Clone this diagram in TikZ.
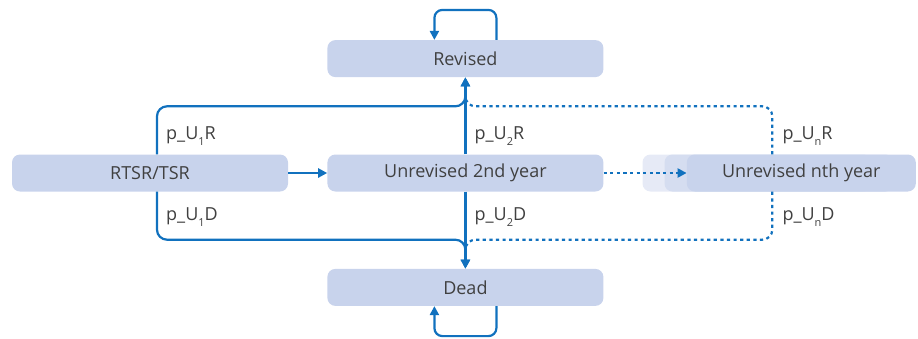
\documentclass[tikz,border=0pt]{standalone}
\usepackage{fontspec}
\setmainfont{Open Sans}
\usetikzlibrary{arrows.meta, positioning, calc}
\definecolor{boxfill}{HTML}{C8D3EC}
\definecolor{shadeA}{HTML}{D5DDF0}
\definecolor{shadeB}{HTML}{E6EAF6}
\definecolor{lineblue}{HTML}{1171BE}
\definecolor{textgray}{HTML}{404040}
\newcommand{\lsub}[1]{\raisebox{-6pt}{\fontsize{11}{11}\selectfont #1}}

\begin{document}
\begin{tikzpicture}[x=1pt, y=-1pt, font=\fontsize{18}{20}\selectfont,
  state/.style={fill=boxfill, rounded corners=8pt, minimum width=276pt,
        minimum height=37pt, inner sep=0pt, text=textgray},
  flow/.style={draw=lineblue, line width=2.2pt, -{Triangle[length=9pt,width=9pt]}},
  flowdot/.style={flow, dash pattern=on 3.2pt off 3.4pt},
  prob/.style={anchor=base west, inner sep=0pt, text=textgray}]
  \useasboundingbox (0,0) rectangle (918,338);

  % States
  \node[state] (rtsr) at (150,173) {RTSR/TSR};
  \node[state, right=39pt of rtsr] (unrev2) {Unrevised 2nd year};
  \node[state, above=77pt of unrev2] (revised) {Revised};
  \node[state, below=77pt of unrev2] (dead) {Dead};
  \node[state, fill=shadeB, minimum width=229pt] (unrevnB) at (757,173) {};
  \node[state, fill=shadeA, minimum width=229pt] (unrevnA) at (779,173) {};
  \node[state, minimum width=229pt, right=83pt of unrev2] (unrevn) {Unrevised nth year};

  % Transitions
  \draw[flow] (rtsr) -- (unrev2);
  \draw[flow] (unrev2) -- (revised);
  \draw[flow] (unrev2) -- (dead);
  \draw[flow, rounded corners=10pt] ($(rtsr.north)+(7,0)$) |- ($(revised.south)+(0,29)$) -- (revised.south);
  \draw[flow, rounded corners=10pt] ($(rtsr.south)+(7,0)$) |- ($(dead.north)+(0,-29)$) -- (dead.north);
  \draw[flowdot] (unrev2) -- (unrevn);
  \draw[flowdot, -, rounded corners=10pt] ($(unrevn.north)+(-29,0)$) |- ($(revised.south)+(0,29)$) -- ++(0,-12);
  \draw[flowdot, -, rounded corners=10pt] ($(unrevn.south)+(-29,0)$) |- ($(dead.north)+(0,-29)$) -- ++(0,12);

  % Self loops
  \draw[flow, rounded corners=8pt] ($(revised.north)+(31,0)$) -- ++(0,-30) -| ($(revised.north)+(-31,0)$);
  \draw[flow, rounded corners=8pt] ($(dead.south)+(31,0)$) -- ++(0,30) -| ($(dead.south)+(-31,0)$);

  % Probabilities
  \node[prob] (p1r) at ($(rtsr.north)+(16,-15)$) {p\_U\lsub{1}R};
  \node[prob] (p1d) at ($(rtsr.south)+(16,29)$) {p\_U\lsub{1}D};
  \node[prob] (p2r) at ($(unrev2.north)+(9,-15)$) {p\_U\lsub{2}R};
  \node[prob] (p2d) at ($(unrev2.south)+(9,29)$) {p\_U\lsub{2}D};
  \node[prob] (pnr) at ($(unrevn.north)+(-19,-15)$) {p\_U\lsub{n}R};
  \node[prob] (pnd) at ($(unrevn.south)+(-19,29)$) {p\_U\lsub{n}D};
\end{tikzpicture}
\end{document}
